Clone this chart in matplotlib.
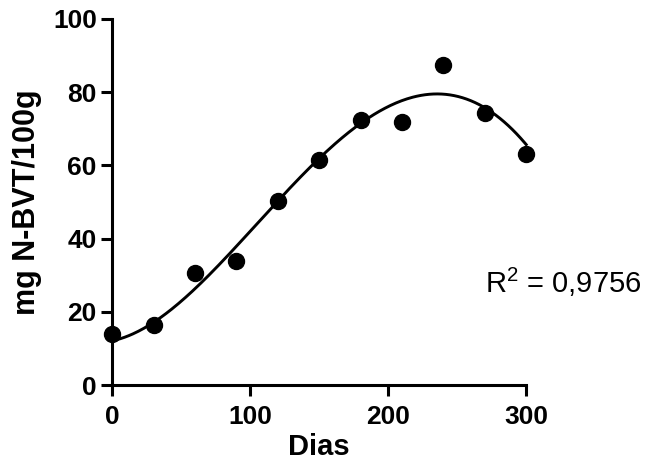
"""
N-BVT content over storage days, with polynomial fit
"""

import numpy as np
import matplotlib
matplotlib.use('Agg')
import matplotlib.pyplot as plt

# data
dias = [0, 30, 60, 90, 120, 150, 180, 210, 240, 270, 300]
n_bvt = [13.9, 16.4, 30.6, 33.9, 50.3, 61.5, 72.4, 71.9, 87.4, 74.3, 63.1]
# fitted curve at the same days
fit_curve = [11.5, 18.3, 26.8, 36.5, 49.7, 62.0, 72.7, 77.9, 79.0, 75.1, 66.1]
r2_text = 'R$^2$ = 0,9756'

plt.rcParams['font.family'] = ['Liberation Sans', 'DejaVu Sans']
plt.rcParams['mathtext.fontset'] = 'custom'
plt.rcParams['mathtext.rm'] = 'Liberation Sans'
plt.rcParams['mathtext.it'] = 'Liberation Sans'

fig = plt.figure(figsize=(6.48, 4.72), dpi=100)
ax = fig.add_axes([0.173, 0.184, 0.639, 0.776])

# smooth polynomial through the curve readings
coef = np.polyfit(dias, fit_curve, 4)
xs = np.linspace(0, 300, 300)
ax.plot(xs, np.polyval(coef, xs), color='black', linewidth=2.1, clip_on=False)
ax.plot(dias, n_bvt, 'o', color='black', markersize=11.5, clip_on=False, zorder=5)

ax.set_xlim(0, 300)
ax.set_ylim(0, 100)
ax.set_xticks([0, 100, 200, 300])
ax.set_yticks([0, 20, 40, 60, 80, 100])

for side in ['top', 'right']:
    ax.spines[side].set_visible(False)
for side in ['left', 'bottom']:
    ax.spines[side].set_linewidth(2.2)

ax.tick_params(width=2.2, length=8, labelsize=19, pad=3)
ax.tick_params(axis='x', pad=6)
for lbl in ax.get_xticklabels() + ax.get_yticklabels():
    lbl.set_fontweight('bold')

ax.set_xlabel('Dias', fontsize=21, fontweight='bold', labelpad=3)
ax.set_ylabel('mg N-BVT/100g', fontsize=22, fontweight='bold', labelpad=8)

fig.text(0.869, 0.402, r2_text, fontsize=21, ha='center', va='center')

fig.savefig('out.png', dpi=100)
